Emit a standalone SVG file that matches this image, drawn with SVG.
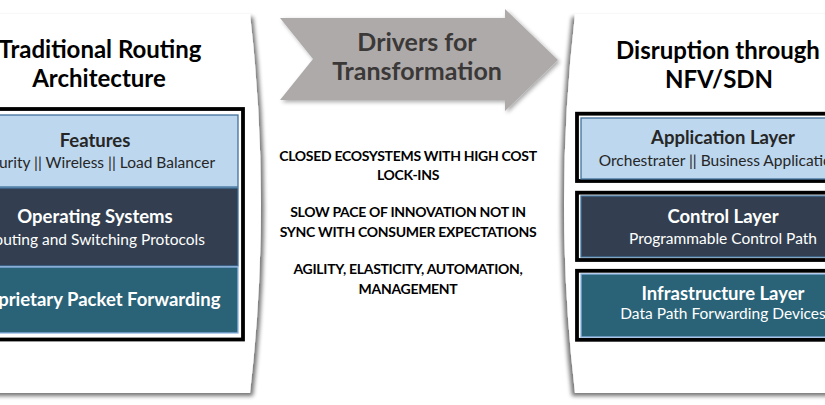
<svg xmlns="http://www.w3.org/2000/svg" width="825" height="405" viewBox="0 0 825 405">
<defs>
<filter id="shL" x="-10%" y="-10%" width="130%" height="130%">
<feGaussianBlur in="SourceAlpha" stdDeviation="2.2"/>
<feOffset dx="3" dy="3" result="b"/>
<feComponentTransfer><feFuncA type="linear" slope="0.55"/></feComponentTransfer>
<feMerge><feMergeNode/><feMergeNode in="SourceGraphic"/></feMerge>
</filter>
<filter id="shR" x="-10%" y="-10%" width="130%" height="130%">
<feGaussianBlur in="SourceAlpha" stdDeviation="2.2"/>
<feOffset dx="-3" dy="3" result="b"/>
<feComponentTransfer><feFuncA type="linear" slope="0.55"/></feComponentTransfer>
<feMerge><feMergeNode/><feMergeNode in="SourceGraphic"/></feMerge>
</filter>
<filter id="shA" x="-10%" y="-10%" width="130%" height="130%">
<feGaussianBlur in="SourceAlpha" stdDeviation="2"/>
<feOffset dx="2" dy="2" result="b"/>
<feComponentTransfer><feFuncA type="linear" slope="0.35"/></feComponentTransfer>
<feMerge><feMergeNode/><feMergeNode in="SourceGraphic"/></feMerge>
</filter>
</defs>
<style>
text{font-family:Lato,"Liberation Sans",sans-serif;text-anchor:middle}
.page{fill:#fff}
.title{font-size:24px;font-weight:bold;fill:#000}
.drv{font-size:25px;font-weight:bold;fill:#3b3838}
.frame{fill:#fff;stroke:#000;stroke-width:3.8}
.lt{fill:#bdd7ee;stroke:#41719c;stroke-width:1.3}
.dk{fill:#333f50;stroke:#41719c;stroke-width:1.3}
.tl{fill:#2a6377;stroke:#8eb4e3;stroke-width:1.3}
.hd{font-size:18.5px;font-weight:bold}
.sb{font-size:15.5px}
.ink{fill:#262626}
.wh{fill:#fff}
.mid{font-size:14px;font-weight:bold;fill:#000;letter-spacing:-0.3px}
</style>
<rect width="825" height="405" fill="#fff"/>

<g id="page-left">
<path class="page" filter="url(#shL)" d="M-20,14 L250,14 Q272,204 250,393 L-20,393 Z"/>
<text class="title" x="100" y="58">Traditional Routing</text>
<text class="title" x="99" y="87">Architecture</text>
<rect class="frame" x="-60" y="109" width="303" height="230.5"/>
</g>

<g id="features">
<rect class="lt" x="-50" y="115" width="288" height="72"/>
<text class="hd ink" x="95" y="147">Features</text>
<text class="sb ink" x="95" y="168">Security || Wireless || Load Balancer</text>
</g>

<g id="operating-systems">
<rect class="dk" x="-50" y="188" width="288" height="78"/>
<text class="hd wh" x="95" y="223">Operating Systems</text>
<text class="sb wh" x="95" y="245">Routing and Switching Protocols</text>
</g>

<g id="packet-forwarding">
<rect class="tl" x="-50" y="267" width="288" height="66"/>
<text class="hd wh" x="95" y="306">Proprietary Packet Forwarding</text>
</g>

<g id="drivers-arrow">
<path fill="#aeaaaa" filter="url(#shA)" d="M280,18 L505,18 L505,9 L558,60 L505,111 L505,100 L280,100 L313,59 Z"/>
<text class="drv" x="417" y="51">Drivers for</text>
<text class="drv" x="417" y="80">Transformation</text>
</g>

<g id="drivers-text">
<text class="mid" x="408" y="160.5">CLOSED ECOSYSTEMS WITH HIGH COST</text>
<text class="mid" x="408" y="180">LOCK-INS</text>
<text class="mid" x="408" y="217">SLOW PACE OF INNOVATION NOT IN</text>
<text class="mid" x="408" y="236.5">SYNC WITH CONSUMER EXPECTATIONS</text>
<text class="mid" x="408" y="274">AGILITY, ELASTICITY, AUTOMATION,</text>
<text class="mid" x="408" y="293.5">MANAGEMENT</text>
</g>

<g id="page-right">
<path class="page" filter="url(#shR)" d="M845,14 L575,14 Q553,204 575,393 L845,393 Z"/>
<text class="title" x="718" y="59">Disruption through</text>
<text class="title" x="719" y="88">NFV/SDN</text>
</g>

<g id="application-layer">
<rect class="frame" x="577" y="113.7" width="300" height="67.3"/>
<rect class="lt" x="581" y="118" width="284" height="61"/>
<text class="hd ink" x="723" y="144">Application Layer</text>
<text class="sb ink" x="723" y="166">Orchestrater || Business Applications</text>
</g>

<g id="control-layer">
<rect class="frame" x="577" y="192.7" width="300" height="67.3"/>
<rect class="dk" x="581" y="196" width="284" height="61"/>
<text class="hd wh" x="723" y="223">Control Layer</text>
<text class="sb wh" x="723" y="244">Programmable Control Path</text>
</g>

<g id="infrastructure-layer">
<rect class="frame" x="577" y="270.8" width="300" height="69"/>
<rect class="tl" x="581" y="274" width="284" height="63"/>
<text class="hd wh" x="723" y="300">Infrastructure Layer</text>
<text class="sb wh" x="723" y="319">Data Path Forwarding Devices</text>
</g>

<g id="connectors"/>
</svg>
